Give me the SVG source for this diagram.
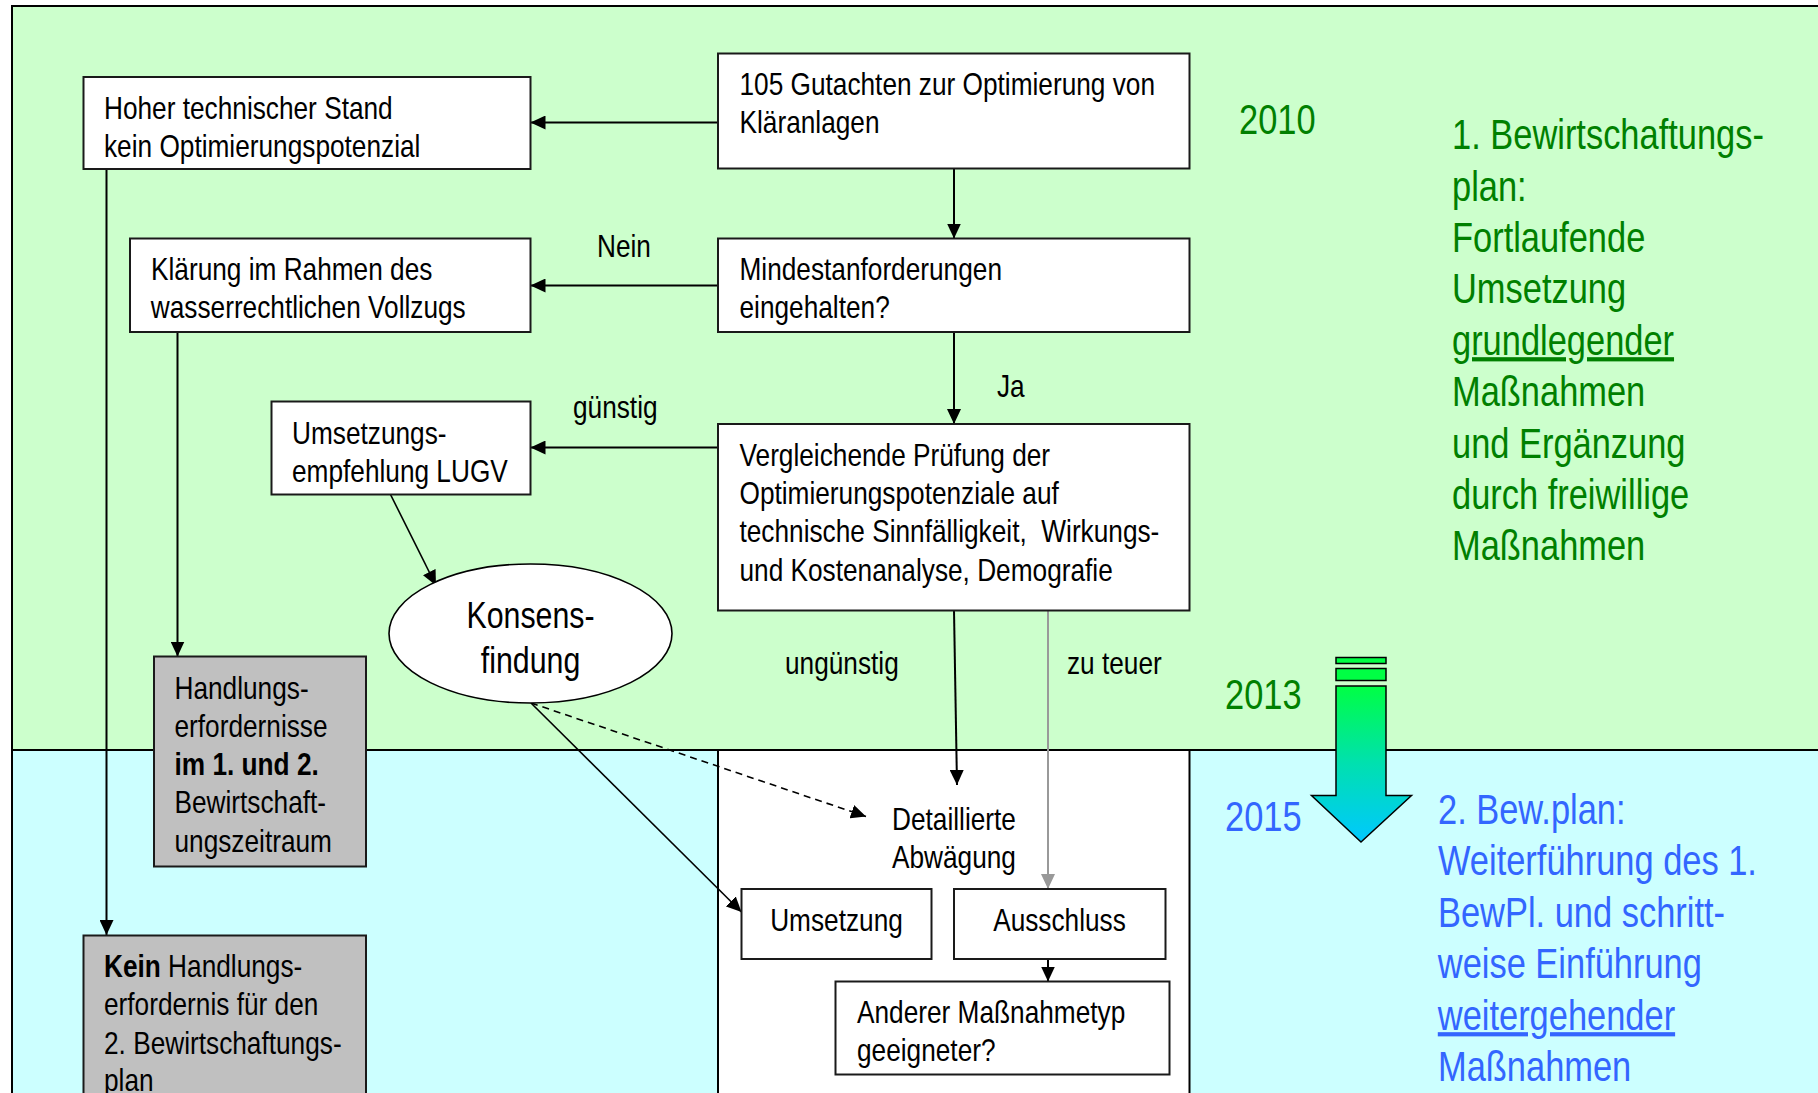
<svg xmlns="http://www.w3.org/2000/svg" width="1818" height="1093" viewBox="0 0 1818 1093">
<style>
text{font-family:'Liberation Sans',Arial,sans-serif;fill:#000;transform-box:fill-box;transform-origin:0% 50%;transform:scaleX(0.82)}
text.m{transform-origin:50% 50%}
.t{font-size:32px}
.k{font-size:37px}
.big{font-size:42px}
.g{fill:#008000}
.b{fill:#3366ff}
.box{fill:#fff;stroke:#1a1a1a;stroke-width:2}
.gray{fill:#c0c0c0;stroke:#1a1a1a;stroke-width:2}
.c{fill:none;stroke:#000;stroke-width:2}
.bold{font-weight:bold}
</style>
<defs>
<marker id="ah" markerUnits="userSpaceOnUse" markerWidth="15" markerHeight="14" viewBox="0 0 15 14" refX="15" refY="7" orient="auto"><path d="M0,0 L15,7 L0,14 z" fill="#000"/></marker>
<marker id="ahg" markerUnits="userSpaceOnUse" markerWidth="15" markerHeight="14" viewBox="0 0 15 14" refX="15" refY="7" orient="auto"><path d="M0,0 L15,7 L0,14 z" fill="#999"/></marker>
<linearGradient id="arrowGrad" x1="0" y1="0" x2="0" y2="1"><stop offset="0" stop-color="#00ff44"/><stop offset="0.5" stop-color="#00e0b0"/><stop offset="1" stop-color="#00c8ff"/></linearGradient>
</defs>
<rect x="0" y="0" width="1818" height="1093" fill="#fff"/>
<g id="background">
<rect x="12" y="6" width="1820" height="744" fill="#ccffcc" stroke="#000" stroke-width="2"/>
<rect x="12" y="750" width="1820" height="360" fill="#ccffff" stroke="#000" stroke-width="2"/>
<rect x="718" y="750" width="471.5" height="360" fill="#fff" stroke="#000" stroke-width="2"/>
</g>
<g id="connectors">
<path class="c" d="M718,122.5 H530.5" marker-end="url(#ah)"/>
<path class="c" d="M954,168.5 V238.5" marker-end="url(#ah)"/>
<path class="c" d="M718,285.5 H530.5" marker-end="url(#ah)"/>
<path class="c" d="M954,332 V424" marker-end="url(#ah)"/>
<path class="c" d="M718,447.5 H530.5" marker-end="url(#ah)"/>
<path class="c" d="M390.5,494.5 L436,585.5" marker-end="url(#ah)" style="stroke-width:1.6"/>
<path class="c" d="M531,703 L741.5,912" marker-end="url(#ah)" style="stroke-width:1.6"/>
<path class="c" d="M531,703 L866,816.5" marker-end="url(#ah)" style="stroke-width:1.6;stroke-dasharray:7 5"/>
<path class="c" d="M106.5,169 V935" marker-end="url(#ah)"/>
<path class="c" d="M177.5,332 V656.5" marker-end="url(#ah)"/>
<path class="c" d="M954,610.5 L957,785" marker-end="url(#ah)"/>
<path d="M1048,610.5 V889" fill="none" stroke="#999" stroke-width="2" marker-end="url(#ahg)"/>
<path class="c" d="M1048,959 V981.5" marker-end="url(#ah)"/>
</g>
<g id="n105">
<rect class="box" x="718" y="53.5" width="471.5" height="115"/>
<text class="t" x="739.5" y="95">105 Gutachten zur Optimierung von</text>
<text class="t" x="739.5" y="133">Kläranlagen</text>
</g>
<g id="hoher">
<rect class="box" x="83.5" y="77" width="447" height="92"/>
<text class="t" x="104" y="119">Hoher technischer Stand</text>
<text class="t" x="104" y="157">kein Optimierungspotenzial</text>
</g>
<g id="mindest">
<rect class="box" x="718" y="238.5" width="471.5" height="93.5"/>
<text class="t" x="739.5" y="280">Mindestanforderungen</text>
<text class="t" x="739.5" y="318">eingehalten?</text>
</g>
<g id="klaerung">
<rect class="box" x="130" y="238.5" width="400.5" height="93.5"/>
<text class="t" x="151" y="280.5">Klärung im Rahmen des</text>
<text class="t" x="151" y="318.5">wasserrechtlichen Vollzugs</text>
</g>
<g id="vergleich">
<rect class="box" x="718" y="424" width="471.5" height="186.5"/>
<text class="t" x="739.5" y="466">Vergleichende Prüfung der</text>
<text class="t" x="739.5" y="504.5">Optimierungspotenziale auf</text>
<text class="t" x="739.5" y="542.5" xml:space="preserve">technische Sinnfälligkeit,  Wirkungs-</text>
<text class="t" x="739.5" y="581">und Kostenanalyse, Demografie</text>
</g>
<g id="umsetzungsempf">
<rect class="box" x="271.5" y="401.5" width="259" height="93"/>
<text class="t" x="292" y="444">Umsetzungs-</text>
<text class="t" x="292" y="482">empfehlung LUGV</text>
</g>
<g id="konsens">
<ellipse cx="530.5" cy="633.5" rx="141.5" ry="69.5" fill="#fff" stroke="#000" stroke-width="1.6"/>
<text class="k m" x="530.5" y="628" text-anchor="middle">Konsens-</text>
<text class="k m" x="530.5" y="673" text-anchor="middle">findung</text>
</g>
<g id="handlung">
<rect class="gray" x="154" y="656.5" width="212" height="210"/>
<text class="t" x="174.5" y="699">Handlungs-</text>
<text class="t" x="174.5" y="737">erfordernisse</text>
<text class="t bold" x="174.5" y="775">im 1. und 2.</text>
<text class="t" x="174.5" y="813.5">Bewirtschaft-</text>
<text class="t" x="174.5" y="852">ungszeitraum</text>
</g>
<g id="kein">
<rect class="gray" x="83.5" y="935.5" width="282.5" height="180"/>
<text class="t" x="104" y="977"><tspan class="bold">Kein</tspan> Handlungs-</text>
<text class="t" x="104" y="1015">erfordernis für den</text>
<text class="t" x="104" y="1054">2. Bewirtschaftungs-</text>
<text class="t" x="104" y="1091">plan</text>
</g>
<g id="detail">
<text class="t" x="892" y="830">Detaillierte</text>
<text class="t" x="892" y="868">Abwägung</text>
</g>
<g id="umsetzung">
<rect class="box" x="741.5" y="889" width="190" height="70"/>
<text class="t m" x="836.5" y="931" text-anchor="middle">Umsetzung</text>
</g>
<g id="ausschluss">
<rect class="box" x="954" y="889" width="211.5" height="70"/>
<text class="t m" x="1059.5" y="931" text-anchor="middle">Ausschluss</text>
</g>
<g id="anderer">
<rect class="box" x="835.5" y="981.5" width="334" height="93"/>
<text class="t" x="857" y="1023">Anderer Maßnahmetyp</text>
<text class="t" x="857" y="1061">geeigneter?</text>
</g>
<g id="labels">
<text class="t" x="597" y="257">Nein</text>
<text class="t" x="573" y="418">günstig</text>
<text class="t" x="997" y="397">Ja</text>
<text class="t" x="785" y="674.5">ungünstig</text>
<text class="t" x="1067" y="674.5">zu teuer</text>
</g>
<g id="years">
<text class="big g" x="1239" y="134">2010</text>
<text class="big g" x="1225" y="709">2013</text>
<text class="big b" x="1225" y="831">2015</text>
</g>
<g id="timeArrow">
<rect x="1336" y="657.5" width="50" height="6" fill="#00ff44" stroke="#000" stroke-width="1.5"/>
<rect x="1336" y="668.5" width="50" height="12" fill="#00ff44" stroke="#000" stroke-width="1.5"/>
<path d="M1336,686 H1386 V795.5 H1411.5 L1361,842 L1311.5,795.5 H1336 Z" fill="url(#arrowGrad)" stroke="#000" stroke-width="1.5"/>
</g>
<g id="plan1">
<text class="big g" x="1452" y="149.5">1. Bewirtschaftungs-</text>
<text class="big g" x="1452" y="201">plan:</text>
<text class="big g" x="1452" y="252.5">Fortlaufende</text>
<text class="big g" x="1452" y="303.5">Umsetzung</text>
<text class="big g" x="1452" y="355" text-decoration="underline">grundlegender</text>
<text class="big g" x="1452" y="406.5">Maßnahmen</text>
<text class="big g" x="1452" y="458">und Ergänzung</text>
<text class="big g" x="1452" y="509.5">durch freiwillige</text>
<text class="big g" x="1452" y="560.5">Maßnahmen</text>
</g>
<g id="plan2">
<text class="big b" x="1438" y="824">2. Bew.plan:</text>
<text class="big b" x="1438" y="875.5">Weiterführung des 1.</text>
<text class="big b" x="1438" y="927">BewPl. und schritt-</text>
<text class="big b" x="1438" y="978.5">weise Einführung</text>
<text class="big b" x="1438" y="1030" text-decoration="underline">weitergehender</text>
<text class="big b" x="1438" y="1081.5">Maßnahmen</text>
</g>
</svg>
